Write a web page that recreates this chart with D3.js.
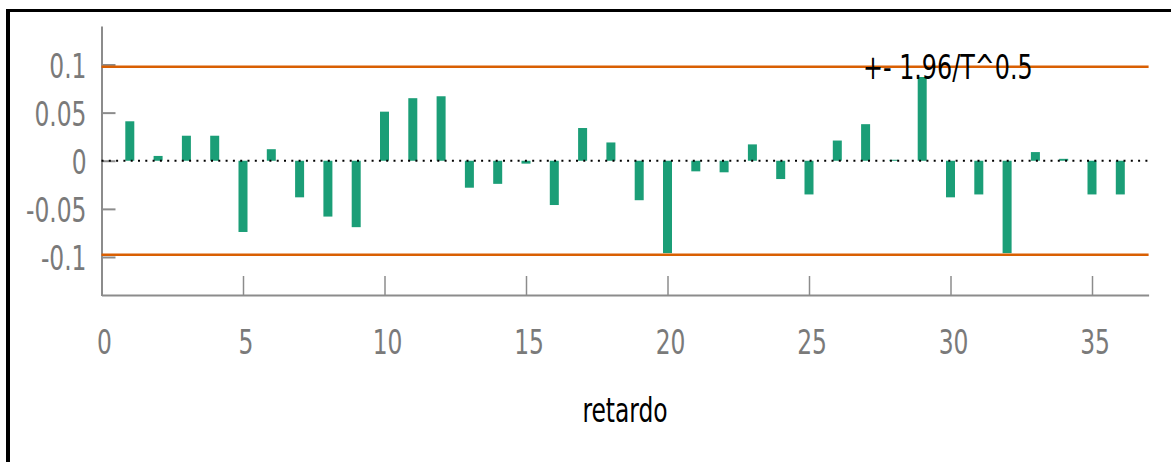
<!DOCTYPE html>
<html>
<head>
<meta charset="utf-8">
<script src="https://cdn.jsdelivr.net/npm/d3@7"></script>
<style>
  html, body { margin: 0; padding: 0; background: #fff; }
  svg { display: block; }
  text { font-family: "DejaVu Sans Condensed", "DejaVu Sans", sans-serif; }
</style>
</head>
<body>
<svg id="chart" width="1171" height="462"></svg>
<script>
// Autocorrelation by lag
const lags = [1, 2, 3, 4, 5, 6, 7, 8, 9, 10, 11, 12, 13, 14, 15, 16, 17, 18,
              19, 20, 21, 22, 23, 24, 25, 26, 27, 28, 29, 30, 31, 32, 33, 34, 35, 36];
const acf = [0.041, 0.005, 0.026, 0.026, -0.074, 0.012, -0.038, -0.058, -0.069,
             0.051, 0.065, 0.067, -0.028, -0.024, -0.003, -0.046, 0.034, 0.019,
             -0.041, -0.096, -0.011, -0.012, 0.017, -0.019, -0.035, 0.021, 0.038,
             0.001, 0.087, -0.038, -0.035, -0.096, 0.009, 0.002, -0.035, -0.035];
const band = 0.0977;                 // +- 1.96/T^0.5
const bandLabel = "+- 1.96/T^0.5";
const xTicks = [0, 5, 10, 15, 20, 25, 30, 35];
const yTicks = [-0.1, -0.05, 0, 0.05, 0.1];
const yTickLabels = ["-0.1", "-0.05", "0", "0.05", "0.1"];
const xTitle = "retardo";

const svg = d3.select("#chart");
const SY = 1.3;            // tall, narrow lettering
const FS = 26;

const plotL = 101.5, plotR = 1148.6, plotT = 26, plotB = 295.5;
const x = d3.scaleLinear().domain([0, 37]).range([plotL, plotR]);
const y = d3.scaleLinear().domain([-0.14, 0.14]).range([plotB, plotT]);

// outer frame
svg.append("line").attr("x1", 8).attr("x2", 8).attr("y1", 9).attr("y2", 470)
  .attr("stroke", "#000").attr("stroke-width", 4);
svg.append("line").attr("x1", 6).attr("x2", 1180).attr("y1", 10.5).attr("y2", 10.5)
  .attr("stroke", "#000").attr("stroke-width", 3);

// axes
const gy = svg.append("g").attr("transform", `translate(${plotL},0)`)
  .call(d3.axisRight(y).tickValues(yTicks).tickSizeInner(14).tickSizeOuter(0).tickFormat(""));
gy.select(".domain").attr("stroke", "#8c8c8c").attr("stroke-width", 2);
gy.selectAll(".tick line").attr("stroke", "#8c8c8c").attr("stroke-width", 2);

const gx = svg.append("g").attr("transform", `translate(0,${plotB - 0.5})`)
  .call(d3.axisTop(x).tickValues(xTicks).tickSizeInner(19).tickSizeOuter(0).tickFormat(""));
gx.select(".domain").attr("stroke", "#8c8c8c").attr("stroke-width", 2);
gx.selectAll(".tick line").attr("stroke", "#8c8c8c").attr("stroke-width", 1.5);

// tick labels
svg.append("g").selectAll("text").data(yTicks).join("text")
  .attr("transform", (d) => `translate(${plotL - 15},${y(d) + 13})scale(1,${SY})`)
  .attr("text-anchor", "end")
  .attr("font-size", FS)
  .attr("fill", "#7a7a7a")
  .text((d, i) => yTickLabels[i]);

svg.append("g").selectAll("text").data(xTicks).join("text")
  .attr("transform", (d) => `translate(${x(d) + 3},${plotB + 58})scale(1,${SY})`)
  .attr("text-anchor", "middle")
  .attr("font-size", FS)
  .attr("fill", "#7a7a7a")
  .text((d) => d);

// axis title
svg.append("text")
  .attr("transform", `translate(${(plotL + plotR) / 2},${plotB + 126})scale(1,${SY})`)
  .attr("text-anchor", "middle")
  .attr("font-size", FS)
  .attr("fill", "#000")
  .text(xTitle);

// bars
const barW = 9;
svg.append("g").selectAll("rect").data(lags).join("rect")
  .attr("x", (d) => x(d) - barW / 2)
  .attr("width", barW)
  .attr("y", (d, i) => Math.min(y(acf[i]), y(0)))
  .attr("height", (d, i) => Math.abs(y(acf[i]) - y(0)))
  .attr("fill", "#1b9e77");

// zero line
svg.append("line")
  .attr("x1", x(0)).attr("x2", x(37))
  .attr("y1", y(0)).attr("y2", y(0))
  .attr("stroke", "#000").attr("stroke-width", 2)
  .attr("stroke-dasharray", "2,5.3");

// confidence band
svg.append("g").selectAll("line").data([band, -band]).join("line")
  .attr("x1", x(0)).attr("x2", x(37))
  .attr("y1", (d) => y(d)).attr("y2", (d) => y(d))
  .attr("stroke", "#d95f02").attr("stroke-width", 2.5);

svg.append("text")
  .attr("transform", `translate(863,79.3)scale(1,${SY})`)
  .attr("font-size", FS + 0.5)
  .attr("fill", "#000")
  .text(bandLabel);
</script>
</body>
</html>
